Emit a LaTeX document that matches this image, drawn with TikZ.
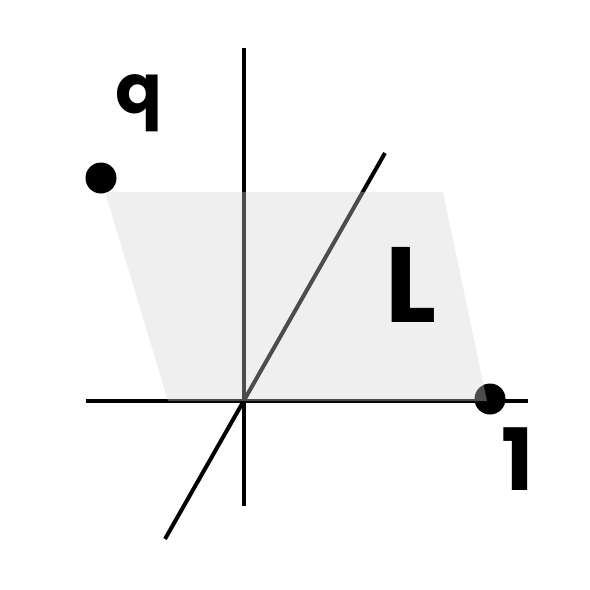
\documentclass[tikz,border=0pt]{standalone}
\usepackage{fontspec}
\setmainfont{Poppins}
\begin{document}
\begin{tikzpicture}[x=1pt,y=-1pt,
  axis/.style={line width=4pt,black},
  dot/.style={circle,fill=black,inner sep=0pt,minimum size=31pt},
  region/.style={fill=black!17,fill opacity=0.36},
  lab/.style={inner sep=0pt,font=\bfseries}]
\useasboundingbox (0,0) rectangle (590,590);
\coordinate (o) at (244,401);
\coordinate (xl) at (86,401);
\coordinate (xr) at (528,401);
\coordinate (yt) at (244,48);
\coordinate (yb) at (244,506);
\coordinate (dl) at (165,539);
\coordinate (du) at (385,153);
\draw[axis] (xl) -- (xr);
\draw[axis] (yt) -- (yb);
\draw[axis] (dl) -- (du);
\node[dot] (q) at (101,178) {};
\node[dot] (one) at (490,399) {};
\coordinate (p1) at (105,192);
\coordinate (p2) at (443,192);
\coordinate (p3) at (487,401);
\coordinate (p4) at (168,401);
\fill[region] (p1) -- (p2) -- (p3) -- (p4) -- cycle;
\node[lab,font=\bfseries\fontsize{69}{69}\selectfont,anchor=base] (ql) at (139,113) {q};
\node[lab,font=\bfseries\fontsize{107}{107}\selectfont,anchor=base] (Ll) at (411,322) {L};
\node[lab,font=\bfseries\fontsize{86}{86}\selectfont,anchor=base] (onel) at (518,490) {1};
\end{tikzpicture}
\end{document}
